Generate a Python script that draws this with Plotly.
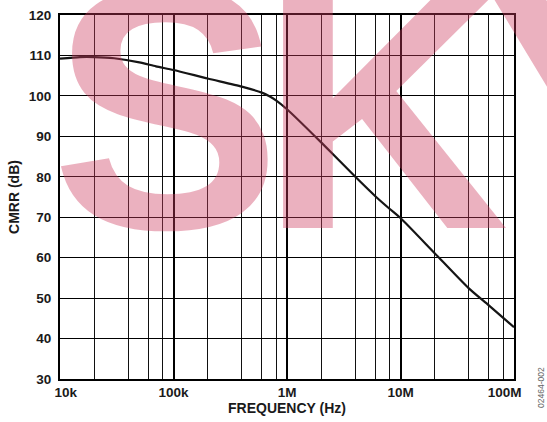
import plotly.graph_objects as go

# ---- data ----
freq_hz = [1e4, 1.5e4, 2e4, 3e4, 5e4, 7e4, 1e5, 2e5, 4e5, 6e5, 7e5, 8e5,
           1e6, 2e6, 4e6, 6e6, 8e6, 1e7, 2e7, 4e7, 6e7, 1e8]
cmrr_db = [109.2, 109.6, 109.6, 109.3, 108.3, 107.3, 106.4, 104.3, 102.3, 100.8, 99.9, 98.9,
           96.7, 88.5, 80.0, 75.2, 72.1, 69.8, 61.1, 52.4, 48.2, 42.8]

x_tick_vals = [1e4, 1e5, 1e6, 1e7, 1e8]
x_tick_labels = ["10k", "100k", "1M", "10M", "100M"]
x_minor_vals = [m * d for d in [1e4, 1e5, 1e6, 1e7] for m in (2, 4, 6, 8)]
y_tick_vals = [30, 40, 50, 60, 70, 80, 90, 100, 110, 120]

FONT = "Liberation Sans, Arial, Helvetica, sans-serif"
NB = "\u00a0"
x_tick_text = ["<b>" + t + "</b>" for t in x_tick_labels]
x_tick_text[0] = NB * 3 + x_tick_text[0]
x_tick_text[-1] = x_tick_text[-1] + NB * 5

L, R, T, B = 60, 33, 15, 43
PW, PH = 547 - L - R, 422 - T - B

fig = go.Figure()
fig.add_trace(go.Scatter(
    x=freq_hz, y=cmrr_db, mode="lines",
    line=dict(color="#151515", width=2.2, shape="spline", smoothing=0.6),
    showlegend=False, hoverinfo="skip"))

fig.update_layout(
    template="none",
    width=547, height=422,
    margin=dict(l=L, r=R, t=T, b=B, pad=0),
    paper_bgcolor="white", plot_bgcolor="white",
    font=dict(family=FONT, size=13, color="#1a1a1a"),
    xaxis=dict(
        type="log", range=[4, 8], automargin=False,
        tickvals=x_tick_vals, ticktext=x_tick_text,
        tickfont=dict(family=FONT, size=13.5, color="#1a1a1a"),
        showgrid=True, gridcolor="#000000", gridwidth=2,
        minor=dict(tickvals=x_minor_vals, showgrid=True, gridcolor="#111111", gridwidth=1.2, ticks=""),
        ticks="", showline=True, linecolor="#000000", linewidth=2, mirror=True,
        zeroline=False,
        title=dict(text="<b>FREQUENCY (Hz)</b>", font=dict(family=FONT, size=14, color="#1a1a1a"), standoff=1),
    ),
    yaxis=dict(
        range=[30, 120], automargin=False,
        tickvals=y_tick_vals, ticktext=["<b>%d</b>" % v for v in y_tick_vals],
        tickfont=dict(family=FONT, size=13.5, color="#1a1a1a"),
        showgrid=True, gridcolor="#000000", gridwidth=1.3,
        ticks="", ticklabelstandoff=4, showline=True, linecolor="#000000", linewidth=2, mirror=True,
        zeroline=False,
        title=dict(text="<b>CMRR (dB)</b>", font=dict(family=FONT, size=14, color="#1a1a1a"), standoff=6),
    ),
)

# watermark letters
wm_color = "rgba(205,60,95,0.40)"
for letter, xp in [("S", 166), ("K", 384), ("Y", 598)]:
    fig.add_annotation(
        text="<b>" + letter + "</b>", xref="paper", yref="paper",
        x=(xp - L) / PW, y=(422 - B - 108) / PH,
        xanchor="center", yanchor="middle", showarrow=False,
        font=dict(family=FONT, size=345, color=wm_color))

fig.add_annotation(
    text="02464-002", xref="paper", yref="paper",
    x=(541 - L) / PW, y=(422 - B - 388) / PH, textangle=-90,
    xanchor="center", yanchor="middle", showarrow=False,
    font=dict(family=FONT, size=8.5, color="#666666"))

fig.write_html("out.html",
               config={"displayModeBar": False},
               post_script="document.body.style.margin='0';document.body.style.overflow='hidden';")
